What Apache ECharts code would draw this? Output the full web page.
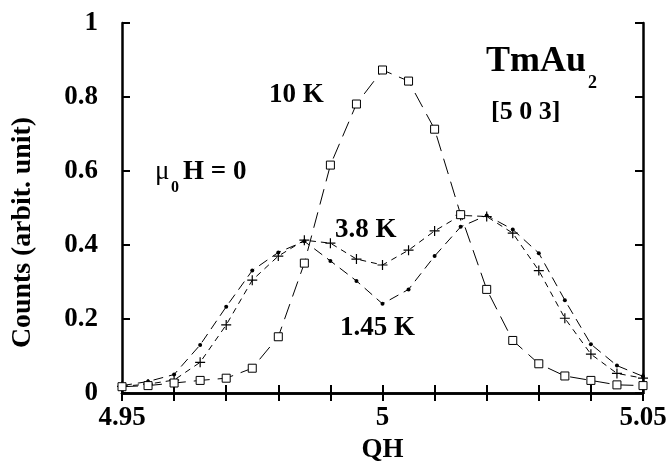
<!DOCTYPE html>
<html>
<head>
<meta charset="utf-8">
<script src="https://cdn.jsdelivr.net/npm/echarts@6/dist/echarts.min.js"></script>
<style>html,body{margin:0;padding:0;background:#fff}#c{width:667px;height:463px}</style>
</head>
<body>
<div id="c"></div>
<script>
const qh = [4.950, 4.955, 4.960, 4.965, 4.970, 4.975, 4.980, 4.985, 4.990, 4.995, 5.000,
            5.005, 5.010, 5.015, 5.020, 5.025, 5.030, 5.035, 5.040, 5.045, 5.050];
const counts10K = [0.017, 0.020, 0.027, 0.034, 0.040, 0.067, 0.152, 0.351, 0.616, 0.781, 0.873,
                   0.843, 0.713, 0.482, 0.280, 0.142, 0.079, 0.046, 0.034, 0.022, 0.020];
const counts38K = [0.018, 0.024, 0.035, 0.083, 0.184, 0.305, 0.370, 0.413, 0.405, 0.362, 0.346,
                   0.386, 0.438, 0.480, 0.477, 0.432, 0.331, 0.202, 0.105, 0.053, 0.040];
const counts145K = [0.020, 0.031, 0.050, 0.130, 0.233, 0.331, 0.380, 0.410, 0.357, 0.303, 0.241,
                    0.280, 0.370, 0.449, 0.480, 0.442, 0.378, 0.251, 0.132, 0.074, 0.045];
const xTickLabels = ['4.95', '5', '5.05'];
const yTickLabels = ['0', '0.2', '0.4', '0.6', '0.8', '1'];

const FONT = 'Liberation Serif';
const pair = arr => qh.map((x, i) => [x, arr[i]]);
const plusPath = 'path://M0,4.4H10V5.6H0Z M4.4,0H5.6V10H4.4Z';

const chart = echarts.init(document.getElementById('c'), null, {renderer: 'canvas'});
const axisLine = {show: true, lineStyle: {color: '#000', width: 2.5}};
const tick = {show: true, inside: true, length: 8, lineStyle: {color: '#000', width: 2}};
const labelStyle = {color: '#000', fontFamily: FONT, fontWeight: 'bold', fontSize: 27};

function fmtX(v) {
  for (const s of xTickLabels) if (Math.abs(parseFloat(s) - v) < 1e-6) return s;
  return '';
}
function fmtY(v) {
  for (const s of yTickLabels) if (Math.abs(parseFloat(s) - v) < 1e-6) return s;
  return '';
}

const txt = (text, x, y, size, extra, weight) => Object.assign({
  type: 'text', x: x, y: y, z: 10,
  style: {text: text, fill: '#000', fontFamily: FONT, fontWeight: weight || 'bold', fontSize: size,
    align: 'left', verticalAlign: 'middle'}
}, extra || {});

chart.setOption({
  animation: false,
  backgroundColor: '#fff',
  grid: {left: 122, right: 24, top: 23, bottom: 70, containLabel: false, outerBoundsMode: 'none'},
  xAxis: [
    {type: 'value', min: 4.95, max: 5.05, interval: 0.01, position: 'bottom',
     axisLine: axisLine, axisTick: tick, splitLine: {show: false},
     axisLabel: Object.assign({margin: 12, formatter: fmtX, showMinLabel: true, showMaxLabel: true}, labelStyle),
     name: 'QH', nameLocation: 'middle', nameGap: 42,
     nameTextStyle: labelStyle},
    {type: 'value', min: 4.95, max: 5.05, interval: 0.01, position: 'top',
     axisLine: axisLine, axisTick: tick, splitLine: {show: false}, axisLabel: {show: false}}
  ],
  yAxis: [
    {type: 'value', min: 0, max: 1, interval: 0.2, position: 'left',
     axisLine: axisLine, axisTick: tick, splitLine: {show: false},
     axisLabel: Object.assign({margin: 24, formatter: fmtY, padding: [4, 0, 0, 0]}, labelStyle)},
    {type: 'value', min: 0, max: 1, interval: 0.2, position: 'right',
     axisLine: axisLine, axisTick: tick, splitLine: {show: false}, axisLabel: {show: false}}
  ],
  series: [
    {name: '1.45 K', type: 'line', data: pair(counts145K), symbol: 'circle', symbolSize: 4,
     itemStyle: {color: '#000'}, lineStyle: {color: '#000', width: 1, type: [10, 6]}},
    {name: '3.8 K', type: 'line', data: pair(counts38K), symbol: plusPath, symbolSize: 10,
     itemStyle: {color: '#000'}, lineStyle: {color: '#000', width: 1, type: [6, 5]}},
    {name: '10 K', type: 'line', data: pair(counts10K), symbol: 'rect', symbolSize: 8,
     itemStyle: {color: '#fff', borderColor: '#000', borderWidth: 1},
     lineStyle: {color: '#000', width: 1, type: [16, 8]}}
  ],
  graphic: [
    {type: 'text', x: 23, y: 232.5, rotation: Math.PI / 2, scaleX: 1.03, z: 10,
     style: {text: 'Counts (arbit. unit)', fill: '#000', fontFamily: FONT, fontWeight: 'bold', fontSize: 27,
       align: 'center', verticalAlign: 'middle'}},
    txt('10 K', 269, 95, 27),
    txt('3.8 K', 335, 230, 27),
    txt('1.45 K', 340, 328, 27),
    txt('TmAu', 486, 62, 36),
    txt('2', 588, 83, 18),
    txt('[5 0 3]', 491, 112, 26),
    txt('μ', 155, 172, 27, null, 'normal'),
    txt('0', 171, 188, 16),
    txt('H = 0', 183, 172, 27)
  ]
});
</script>
</body>
</html>
